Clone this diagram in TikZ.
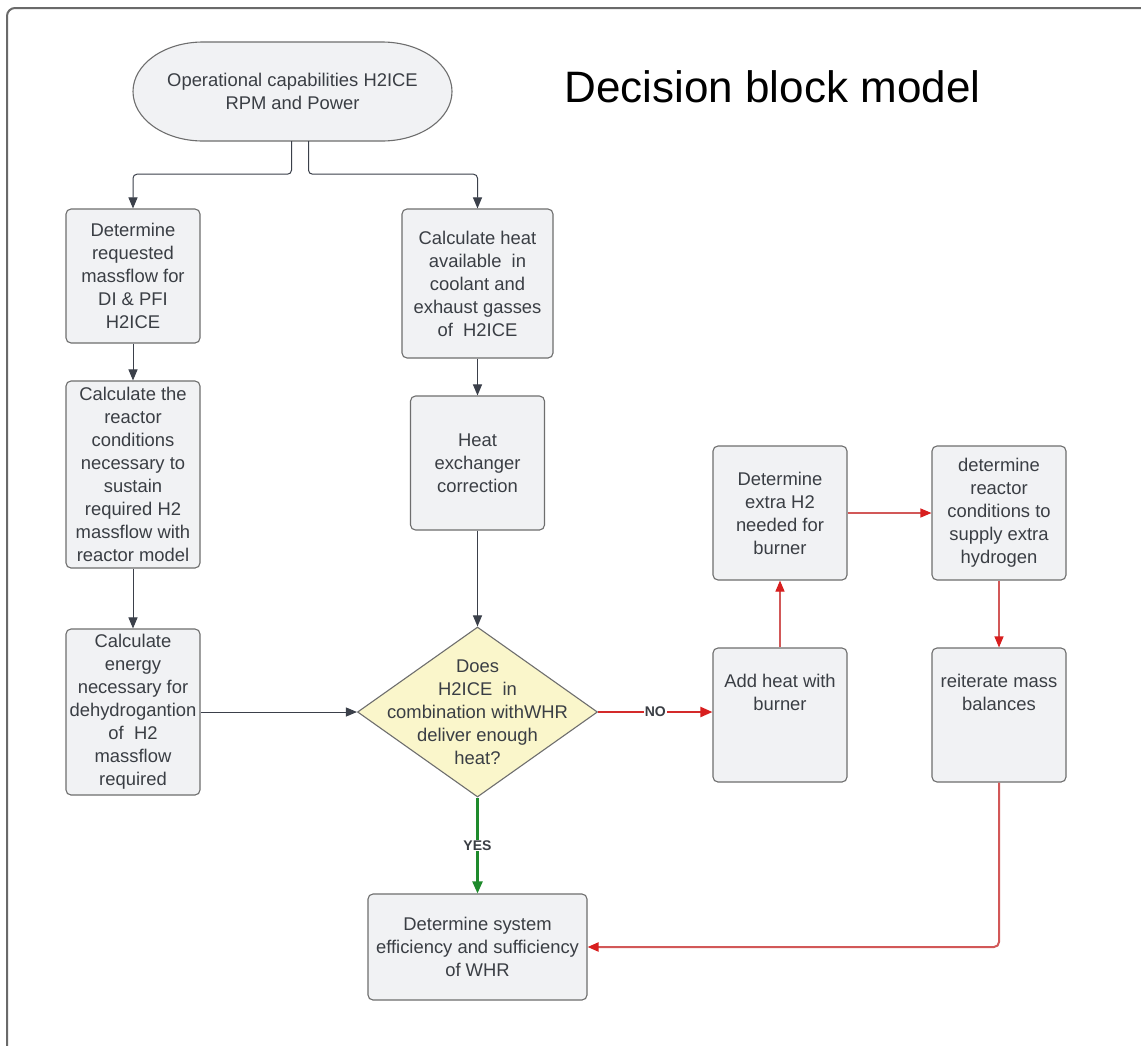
\documentclass[tikz,border=0pt]{standalone}
\usepackage{fontspec}
\setmainfont{Liberation Sans}
\usetikzlibrary{arrows.meta,shapes.geometric,calc}

\definecolor{boxfill}{HTML}{F1F2F4}
\definecolor{boxline}{HTML}{6E6E6E}
\definecolor{txt}{HTML}{3A3E44}
\definecolor{flow}{HTML}{3B404A}
\definecolor{qfill}{HTML}{FAF6CB}
\definecolor{redline}{HTML}{D25858}
\definecolor{redtip}{HTML}{D81E1E}
\definecolor{noline}{HTML}{D42A2A}
\definecolor{yesline}{HTML}{1E8A2C}
\definecolor{framecol}{HTML}{6A6A6A}

\begin{document}
\begin{tikzpicture}[x=1pt,y=-1pt,
  boxtext/.style={text=txt, font=\fontsize{18.4}{23}\selectfont, align=center},
  proc/.style={boxtext, draw=boxline, fill=boxfill, line width=1.1pt,
    rounded corners=5pt, inner sep=2pt, minimum width=134pt},
  flowarr/.style={draw=flow, line width=1pt, -{Triangle[length=11pt,width=9pt]}},
  redarr/.style={draw=redline, line width=1.1pt,
    -{Triangle[length=11pt,width=9pt,color=redtip]}},
  noarr/.style={draw=noline, line width=2pt,
    -{Triangle[length=12pt,width=10pt,color=redtip]}},
  yesarr/.style={draw=yesline, line width=2.2pt,
    -{Triangle[length=12pt,width=10pt]}},
  edgelabel/.style={font=\bfseries\fontsize{14}{14}\selectfont, text=txt,
    fill=white, inner sep=1pt}
]
% page area and outer frame
\useasboundingbox (0,0) rectangle (1141,1045);
\fill[white] (0,0) rectangle (1141,1045);
\begin{scope}
  \clip (0,0) rectangle (1141,1045);
  \draw[framecol, line width=2pt, rounded corners=8pt] (7,8) rectangle (1180,1090);
\end{scope}

% title
\node[font=\fontsize{44}{50}\selectfont, anchor=base] (title) at (772.5,102) {Decision block model};

% start terminal (stadium with elliptic ends)
\path[draw=boxline, fill=boxfill, line width=1.1pt]
  (203,42) -- (382,42)
  arc[start angle=-90, end angle=90, x radius=70, y radius=49.5]
  -- (203,141)
  arc[start angle=90, end angle=270, x radius=70, y radius=49.5] -- cycle;
\node[boxtext, minimum width=319pt, minimum height=99pt, inner sep=0pt]
  (start) at (292.5,91.5) {Operational capabilities H2ICE\\RPM and Power};

% left column
\node[proc, minimum height=134pt] (A) at (133,276)
  {Determine\\requested\\massflow for\\DI \& PFI\\H2ICE};
\node[proc, minimum height=187pt] (B) at (133,474.5)
  {Calculate the\\reactor\\conditions\\necessary to\\sustain\\required H2\\massflow with\\reactor model};
\node[proc, minimum height=166pt] (C) at (133,712)
  {Calculate\\energy\\necessary for\\dehydrogantion\\of~ H2\\massflow\\required};

% middle column
\node[proc, minimum width=151pt, minimum height=149pt] (D) at (477.5,283.5)
  {Calculate heat\\available~ in\\coolant and\\exhaust gasses\\of~ H2ICE};
\node[proc, minimum height=134pt] (E) at (477.5,463)
  {Heat\\exchanger\\correction};
\node[shape=diamond, draw=boxline, fill=qfill, line width=1.1pt,
  minimum width=240pt, minimum height=170pt, inner sep=0pt] (Q) at (477.5,712) {};
\node[boxtext] (qtext) at (477.5,712)
  {Does\\H2ICE~ in\\combination withWHR\\deliver enough\\heat?};
\node[proc, minimum width=219pt, minimum height=106pt] (J) at (477.5,947)
  {Determine system\\efficiency and sufficiency\\of WHR};

% right columns
\node[proc, minimum height=134pt] (F) at (780,715) {Add heat with\\burner\\[23pt]};
\node[proc, minimum height=134pt] (G) at (780,513)
  {Determine\\extra H2\\needed for\\burner};
\node[proc, minimum height=134pt] (H) at (999,513)
  {determine\\reactor\\conditions to\\supply extra\\hydrogen};
\node[proc, minimum height=134pt] (I) at (999,715) {reiterate mass\\balances\\[23pt]};

% connectors
\draw[flowarr, rounded corners=4pt] ([xshift=-1pt]start.south) -- ++(0,33) -| (A.north);
\draw[flowarr, rounded corners=4pt] ([xshift=16pt]start.south) -- ++(0,33) -| (D.north);
\draw[flowarr] (A.south) -- (B.north);
\draw[flowarr] (B.south) -- (C.north);
\draw[flowarr] (D.south) -- (E.north);
\draw[flowarr] (E.south) -- (Q.north);
\draw[flowarr] (C.east) -- (Q.west);
\draw[noarr] (Q.east) -- node[edgelabel] {NO} (Q.east -| F.west);
\draw[yesarr] (Q.south) -- node[edgelabel] {YES} (J.north);
\draw[redarr] (F.north) -- (G.south);
\draw[redarr] (G.east) -- (H.west);
\draw[redarr] (H.south) -- (I.north);
\draw[redarr, line width=2pt, rounded corners=5pt] (I.south) |- (J.east);
\end{tikzpicture}
\end{document}
